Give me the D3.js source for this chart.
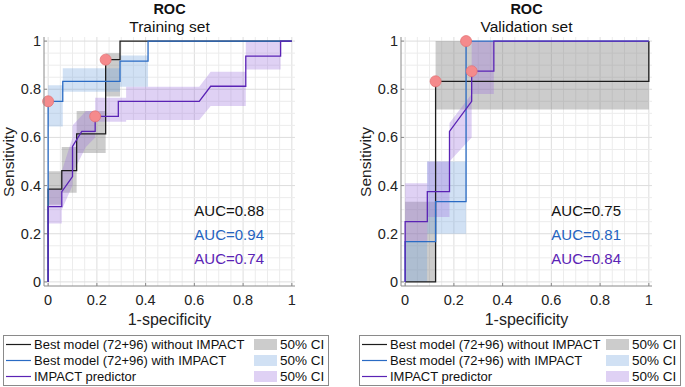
<!DOCTYPE html>
<html lang="en">
<head>
  <meta charset="UTF-8">
  <title>ROC curves</title>
  <script src="https://d3js.org/d3.v7.min.js"></script>
  <style>
    body { margin: 0; background: #fff; }
    svg { font-family: 'Liberation Sans', Arial, sans-serif; }
  </style>
</head>
<body>
<div id="chart"></div>
<script>
  // ---- data ----
  var PANEL_TITLES = ['Training set', 'Validation set'];
  var SERIES_LABELS = ['Best model (72+96) without IMPACT', 'Best model (72+96) with IMPACT', 'IMPACT predictor'];
  var TICKS = [0, 0.2, 0.4, 0.6, 0.8, 1];

  var aucTrain = [0.88, 0.94, 0.74];
  var aucVal = [0.75, 0.81, 0.84];

  // ROC curves [1-specificity, sensitivity]
  var trainBlack = [[0,0],[0,0.385],[0.056,0.385],[0.056,0.462],[0.117,0.462],[0.117,0.615],[0.236,0.615],[0.236,0.923],[0.295,0.923],[0.295,1],[1,1]];
  var trainBlue = [[0,0],[0,0.75],[0.06,0.75],[0.06,0.833],[0.295,0.833],[0.295,0.917],[0.41,0.917],[0.41,1],[1,1]];
  var trainPurple = [[0,0],[0,0.3125],[0.056,0.3125],[0.056,0.375],[0.1,0.4375],[0.1,0.5625],[0.138,0.625],[0.193,0.625],[0.193,0.6875],[0.288,0.6875],[0.288,0.75],[0.62,0.75],[0.667,0.8125],[0.811,0.8125],[0.811,0.9375],[0.954,0.9375],[0.954,1],[1,1]];

  var valBlack = [[0,0],[0.125,0],[0.125,0.833],[1,0.833],[1,1]];
  var valBlue = [[0,0],[0,0.167],[0.125,0.167],[0.125,0.333],[0.25,0.333],[0.25,1],[1,1]];
  var valPurple = [[0,0],[0,0.25],[0.091,0.25],[0.091,0.375],[0.182,0.375],[0.182,0.625],[0.273,0.75],[0.273,0.875],[0.364,0.875],[0.364,1],[1,1]];

  // 50% CI bands [x, lower, upper]
  var trainBlackCI = [[0,0.32,0.46],[0.056,0.32,0.46],[0.056,0.37,0.56],[0.117,0.37,0.56],[0.117,0.535,0.71],[0.236,0.535,0.71],[0.236,0.77,0.95],[0.295,0.77,0.95]];
  var trainBlueCI = [[0,0.645,0.817],[0.06,0.645,0.817],[0.06,0.79,0.887],[0.295,0.79,0.887],[0.295,0.81,0.94],[0.41,0.81,0.94]];
  var trainPurpleCI = [[0,0.243,0.385],[0.056,0.243,0.385],[0.056,0.3,0.46],[0.1,0.4,0.6],[0.1,0.45,0.65],[0.155,0.56,0.71],[0.193,0.6,0.71],[0.193,0.665,0.765],[0.32,0.665,0.765],[0.32,0.672,0.81],[0.62,0.672,0.81],[0.667,0.73,0.873],[0.811,0.73,0.873],[0.811,0.882,1],[0.954,0.882,1]];

  var valBlackCI = [[0,0,0.333],[0.125,0,0.333],[0.125,0.716,1],[1,0.716,1]];
  var valBlueCI = [[0,0,0.167],[0.09,0,0.167],[0.09,0.2,0.5],[0.25,0.2,0.5]];
  var valPurpleCI = [[0,0.17,0.41],[0.091,0.17,0.41],[0.091,0.27,0.5],[0.182,0.27,0.5],[0.182,0.5,0.66],[0.273,0.6,0.78],[0.273,0.78,1],[0.364,0.78,1]];

  // operating points (one per curve)
  var trainPoints = [[0.236,0.923],[0,0.75],[0.193,0.6875]];
  var valPoints = [[0.125,0.833],[0.25,1],[0.273,0.875]];

  // ---- drawing ----
  var W = 685, H = 387;
  var LINE_COLORS = ['#1c1c1c', '#2a6bc4', '#5a23b5'];
  var TEXT_COLORS = ['#111111', '#2563c0', '#5a23b5'];
  var CI_FILL = ['#808080', '#6fa3dc', '#9a6fdc'];
  var CI_OPACITY = [0.4, 0.32, 0.32];

  var svg = d3.select('#chart').append('svg')
    .attr('width', W).attr('height', H);

  var panels = [
    {title: PANEL_TITLES[0], left: 44, curves: [trainBlack, trainBlue, trainPurple],
      bands: [trainBlackCI, trainBlueCI, trainPurpleCI], auc: aucTrain, points: trainPoints,
      legendX: 3, legendW: 325},
    {title: PANEL_TITLES[1], left: 401, curves: [valBlack, valBlue, valPurple],
      bands: [valBlackCI, valBlueCI, valPurpleCI], auc: aucVal, points: valPoints,
      legendX: 359, legendW: 321}
  ];

  panels.forEach(function (p) {
    var x = d3.scaleLinear().domain([-0.017, 1.013]).range([p.left, p.left + 251]);
    var y = d3.scaleLinear().domain([-0.017, 1.017]).range([286, 37]);
    var g = svg.append('g');

    // grid (minor every 0.05, major every 0.2)
    var minor = d3.range(0, 1.0001, 0.05);
    g.selectAll('.gx').data(minor).enter().append('line')
      .attr('x1', function (d) { return x(d); }).attr('x2', function (d) { return x(d); })
      .attr('y1', y.range()[0]).attr('y2', y.range()[1])
      .attr('stroke', function (d, i) { return i % 4 === 0 ? '#dddddd' : '#ececec'; })
      .attr('stroke-width', 1);
    g.selectAll('.gy').data(minor).enter().append('line')
      .attr('y1', function (d) { return y(d); }).attr('y2', function (d) { return y(d); })
      .attr('x1', x.range()[0]).attr('x2', x.range()[1])
      .attr('stroke', function (d, i) { return i % 4 === 0 ? '#dddddd' : '#ececec'; })
      .attr('stroke-width', 1);

    // CI bands
    var area = d3.area()
      .x(function (d) { return x(d[0]); })
      .y0(function (d) { return y(d[1]); })
      .y1(function (d) { return y(d[2]); });
    p.bands.forEach(function (b, i) {
      g.append('path').attr('d', area(b))
        .attr('fill', CI_FILL[i]).attr('fill-opacity', CI_OPACITY[i]).attr('stroke', 'none');
    });

    // ROC lines
    var line = d3.line().x(function (d) { return x(d[0]); }).y(function (d) { return y(d[1]); });
    p.curves.forEach(function (c, i) {
      g.append('path').attr('d', line(c))
        .attr('fill', 'none').attr('stroke', LINE_COLORS[i]).attr('stroke-width', 1.3);
    });

    // operating points
    g.selectAll('.pt').data(p.points).enter().append('circle')
      .attr('cx', function (d) { return x(d[0]); })
      .attr('cy', function (d) { return y(d[1]); })
      .attr('r', 5.5)
      .attr('fill', '#f58a8c').attr('stroke', '#e57476').attr('stroke-width', 0.8);

    // axes
    var axisColor = '#8a8a8a';
    g.append('line').attr('x1', x.range()[0]).attr('x2', x.range()[0])
      .attr('y1', y.range()[0]).attr('y2', y.range()[1]).attr('stroke', axisColor);
    g.append('line').attr('x1', x.range()[0]).attr('x2', x.range()[1])
      .attr('y1', y.range()[0]).attr('y2', y.range()[0]).attr('stroke', axisColor);
    g.selectAll('.tx').data(TICKS).enter().append('line')
      .attr('x1', function (d) { return x(d); }).attr('x2', function (d) { return x(d); })
      .attr('y1', y.range()[0]).attr('y2', y.range()[0] - 3).attr('stroke', axisColor);
    g.selectAll('.ty').data(TICKS).enter().append('line')
      .attr('y1', function (d) { return y(d); }).attr('y2', function (d) { return y(d); })
      .attr('x1', x.range()[0]).attr('x2', x.range()[0] + 3).attr('stroke', axisColor);

    g.selectAll('.lx').data(TICKS).enter().append('text')
      .attr('x', function (d) { return x(d); }).attr('y', 305)
      .attr('text-anchor', 'middle').attr('font-size', 14.5).attr('fill', '#222')
      .text(function (d) { return d3.format('~g')(d); });
    g.selectAll('.ly').data(TICKS).enter().append('text')
      .attr('x', x.range()[0] - 3).attr('y', function (d) { return y(d) + 5; })
      .attr('text-anchor', 'end').attr('font-size', 14.5).attr('fill', '#222')
      .text(function (d) { return d3.format('~g')(d); });

    var cx = (x.range()[0] + x.range()[1]) / 2;
    g.append('text').attr('x', cx).attr('y', 325).attr('text-anchor', 'middle')
      .attr('font-size', 16).attr('fill', '#222').text('1-specificity');
    g.append('text')
      .attr('transform', 'translate(' + (x.range()[0] - 30) + ',' + 162 + ') rotate(-90)')
      .attr('text-anchor', 'middle').attr('font-size', 15.5).attr('fill', '#222').text('Sensitivity');

    g.append('text').attr('x', cx).attr('y', 14).attr('text-anchor', 'middle')
      .attr('font-size', 14.5).attr('font-weight', 'bold').attr('fill', '#111').text('ROC');
    g.append('text').attr('x', cx).attr('y', 32).attr('text-anchor', 'middle')
      .attr('font-size', 15.5).attr('fill', '#111').text(p.title);

    // AUC labels
    p.auc.forEach(function (a, i) {
      g.append('text').attr('x', x(0.6)).attr('y', 215.5 + i * 24)
        .attr('font-size', 15).attr('fill', TEXT_COLORS[i])
        .text('AUC=' + a.toFixed(2));
    });

    // legend
    var lg = svg.append('g').attr('transform', 'translate(' + p.legendX + ',335)');
    lg.append('rect').attr('x', 0.5).attr('y', 0.5).attr('width', p.legendW).attr('height', 50)
      .attr('fill', '#fff').attr('stroke', '#8a8a8a');
    SERIES_LABELS.forEach(function (lab, i) {
      var yy = 9.5 + i * 16;
      lg.append('line').attr('x1', 3).attr('x2', 28).attr('y1', yy).attr('y2', yy)
        .attr('stroke', LINE_COLORS[i]).attr('stroke-width', 1.2);
      lg.append('text').attr('x', 31).attr('y', yy + 4.5).attr('font-size', 13)
        .attr('fill', '#111').text(lab);
      lg.append('rect').attr('x', p.legendW - 74).attr('y', yy - 5.5).attr('width', 23).attr('height', 11)
        .attr('fill', CI_FILL[i]).attr('fill-opacity', CI_OPACITY[i]);
      lg.append('text').attr('x', p.legendW - 48).attr('y', yy + 4.5).attr('font-size', 13.5)
        .attr('fill', '#111').text('50% CI');
    });
  });
</script>
</body>
</html>
